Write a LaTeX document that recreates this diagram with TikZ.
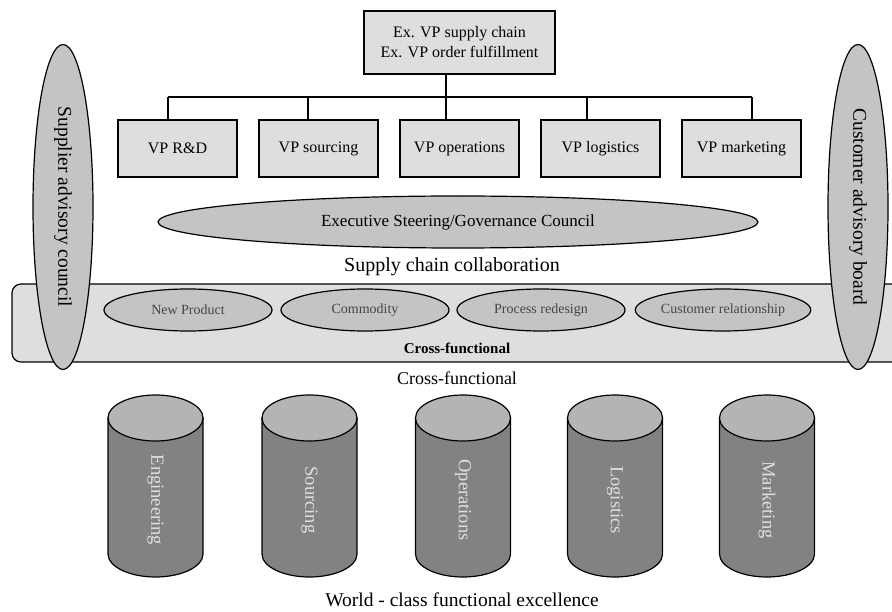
\documentclass[tikz,border=0pt]{standalone}
\usepackage{fontspec}
\setmainfont{Liberation Serif}
\usetikzlibrary{shapes.geometric}

\definecolor{boxfill}{RGB}{222,222,222}
\definecolor{ovalfill}{RGB}{196,196,196}
\definecolor{teamtext}{RGB}{70,70,70}
\definecolor{pillarfill}{RGB}{130,130,130}
\definecolor{capfill}{RGB}{180,180,180}
\definecolor{pillarlabel}{RGB}{225,225,225}

\begin{document}
\begin{tikzpicture}[x=1pt, y=-1pt, line width=1.2pt,
	vpbox/.style={draw, fill=boxfill, minimum width=119, minimum height=57, inner sep=2pt, font=\fontsize{16}{20}\selectfont},
	council/.style={draw, ellipse, fill=ovalfill, inner sep=0pt},
	team/.style={draw, ellipse, fill=ovalfill, minimum width=168, minimum height=42, inner sep=0pt, text=teamtext, font=\fontsize{14}{16}\selectfont},
	pillartext/.style={rotate=-90, text=pillarlabel, font=\fontsize{18.5}{22}\selectfont}]
		\useasboundingbox (0,0) rectangle (892,612);
		\clip (0,0) rectangle (892,612);
		\node[vpbox, minimum width=191, minimum height=63, align=center] (head) at (459.5,42.5) {Ex. VP supply chain\\Ex. VP order fulfillment};
		\foreach \n/\x/\t in {rd/177.5/VP R\&D, src/318.5/VP sourcing, ops/459.5/VP operations, log/600.5/VP logistics, mkt/741.5/VP marketing}
			\node[vpbox] (\n) at (\x,148.5) {\t};
		\coordinate (bus) at (446,97);
		\coordinate (busl) at (168,97);
		\coordinate (busr) at (752,97);
		\draw (head.south -| bus) -- (bus);
		\draw (busl) -- (busr);
		\foreach \n/\x in {rd/168, src/308, ops/446, log/587, mkt/752} {
			\coordinate (tap) at (\x,97);
			\draw (tap) -- (tap |- \n.north);
		}
		\node[council, minimum width=600, minimum height=52, font=\fontsize{17}{20}\selectfont] (exec) at (458,222) {Executive Steering/Governance Council};
		\node[font=\fontsize{20}{24}\selectfont] (scc) at (452,267) {Supply chain collaboration};
		\draw[fill=boxfill, rounded corners=9] (12,284) rectangle (910,362);
		\foreach \n/\x/\t in {newp/188/New Product, comm/365/Commodity, proc/541/Process redesign, cust/723/Customer relationship}
			\node[team] (\n) at (\x,310) {\t};
		\node[font=\bfseries\fontsize{15}{18}\selectfont] (xfin) at (457,348) {Cross-functional};
		\node[council, rotate=-90, minimum width=325, minimum height=60, font=\fontsize{19.5}{22}\selectfont] (supp) at (63,207) {Supplier advisory council};
		\node[council, rotate=-90, minimum width=325, minimum height=60, font=\fontsize{19.5}{22}\selectfont] (custb) at (858,207) {Customer advisory board};
		\node[font=\fontsize{18}{21}\selectfont] (xfout) at (457,378) {Cross-functional};
		\foreach \n/\x/\t in {eng/155.5/Engineering, srcg/309.5/Sourcing, oper/463/Operations, logi/615/Logistics, mark/767/Marketing} {
			\filldraw[fill=pillarfill] (\x-47.5,418) -- (\x-47.5,554) arc[start angle=180, end angle=0, x radius=47.5, y radius=23] -- (\x+47.5,418) -- cycle;
			\filldraw[fill=capfill] (\x,418) ellipse[x radius=47.5, y radius=23];
			\node[pillartext] (\n) at (\x,500) {\t};
		}
		\node[font=\fontsize{19.5}{23}\selectfont] (wcfe) at (462,600) {World - class functional excellence};
	\end{tikzpicture}
\end{document}
